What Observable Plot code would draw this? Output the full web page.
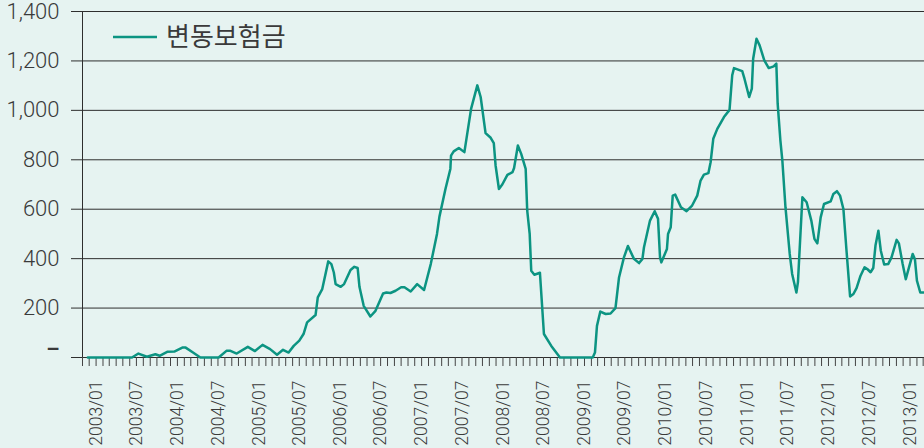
<!DOCTYPE html>
<html>
<head>
<meta charset="utf-8">
<script src="https://cdn.jsdelivr.net/npm/d3@7"></script>
<script src="https://cdn.jsdelivr.net/npm/@observablehq/plot@0.6"></script>
<style>
  html, body { margin: 0; padding: 0; background: #e6f3f1; }
  #chart svg { display: block; background: #e6f3f1; }
</style>
</head>
<body>
<div id="chart"></div>
<script>
// Series name
const seriesName = "변동보험금";

const dates = [
  "2002-11-25","2003-06-11","2003-07-10","2003-08-17","2003-09-24","2003-10-13","2003-11-16","2003-12-18",
  "2004-01-23","2004-02-07","2004-03-11","2004-04-13","2004-07-04","2004-08-08","2004-08-26","2004-09-23",
  "2004-11-12","2004-12-14","2005-01-17","2005-02-20","2005-03-23","2005-04-19","2005-05-14","2005-06-06",
  "2005-07-01","2005-07-20","2005-08-05","2005-09-12","2005-09-22","2005-10-12","2005-11-08","2005-11-22",
  "2005-12-03","2005-12-11","2006-01-03","2006-01-18","2006-02-16","2006-03-05","2006-03-20","2006-03-28",
  "2006-04-16","2006-05-16","2006-06-08","2006-07-12","2006-07-27","2006-08-14","2006-09-06","2006-10-01",
  "2006-10-16","2006-11-13","2006-12-12","2007-01-12","2007-02-11","2007-03-11","2007-03-22","2007-04-18",
  "2007-05-10","2007-05-13","2007-05-25","2007-06-17","2007-07-12","2007-08-11","2007-09-08","2007-09-23",
  "2007-10-15","2007-11-07","2007-11-21","2007-11-29","2007-12-14","2007-12-29","2008-01-21","2008-02-13",
  "2008-02-20","2008-03-08","2008-03-23","2008-04-12","2008-04-19","2008-04-30","2008-05-07","2008-05-21",
  "2008-06-15","2008-07-03","2008-08-05","2008-09-13","2009-02-07","2009-02-17","2009-02-26","2009-03-13",
  "2009-04-06","2009-04-28","2009-05-20","2009-06-05","2009-06-27","2009-07-15","2009-08-11","2009-09-03",
  "2009-09-18","2009-09-25","2009-10-22","2009-11-12","2009-11-27","2009-12-06","2009-12-12","2010-01-06",
  "2010-01-11","2010-01-23","2010-02-01","2010-02-12","2010-03-10","2010-04-04","2010-04-29","2010-05-22",
  "2010-06-06","2010-06-21","2010-07-11","2010-07-21","2010-08-02","2010-08-20","2010-09-19","2010-10-14",
  "2010-10-26","2010-11-03","2010-12-10","2010-12-20","2011-01-10","2011-01-22","2011-01-28","2011-02-12",
  "2011-02-26","2011-03-19","2011-04-08","2011-04-30","2011-05-12","2011-05-18","2011-05-30","2011-06-08",
  "2011-06-22","2011-07-11","2011-07-22","2011-08-10","2011-08-17","2011-08-29","2011-09-06","2011-09-25",
  "2011-10-16","2011-10-30","2011-11-12","2011-11-27","2011-12-12","2012-01-11","2012-01-23","2012-02-08",
  "2012-02-22","2012-03-08","2012-03-22","2012-04-07","2012-04-22","2012-05-06","2012-05-24","2012-06-11",
  "2012-06-23","2012-07-08","2012-07-20","2012-07-30","2012-08-12","2012-08-23","2012-09-07","2012-09-25",
  "2012-10-10","2012-11-02","2012-11-12","2012-11-29","2012-12-13","2012-12-28","2013-01-13","2013-01-23",
  "2013-02-01","2013-02-16","2013-03-07"
];

// Values (same order as dates)
const values = [
  0,0,16,3,13,7,23,24,
  40,40,20,0,0,27,27,16,
  43,26,51,34,11,31,20,47,
  68,95,142,172,243,277,389,378,
  344,297,286,297,354,367,362,286,
  209,166,189,259,263,261,270,284,
  284,267,297,273,378,500,570,682,
  763,817,834,848,831,1006,1101,1054,
  908,889,867,777,682,700,739,750,
  767,858,824,763,594,500,351,335,
  343,95,47,0,0,20,128,186,
  176,178,200,324,405,451,399,382,
  399,446,554,592,561,405,385,439,
  500,527,655,659,608,592,615,655,
  716,740,746,790,885,925,973,1002,
  1142,1171,1159,1128,1054,1088,1209,1290,
  1263,1202,1171,1178,1189,1027,880,797,
  608,420,338,263,305,513,648,628,
  554,480,462,567,621,632,662,673,
  655,601,432,247,257,281,331,365,
  358,345,362,453,513,432,376,378,
  405,476,462,378,317,367,419,398,
  311,263,263
];

// Axis tick values / labels
const yTicks = [0, 200, 400, 600, 800, 1000, 1200, 1400];
const yLabels = ["–", "200", "400", "600", "800", "1,000", "1,200", "1,400"];
const xTickLabels = [
  "2003/01","2003/07","2004/01","2004/07","2005/01","2005/07","2006/01","2006/07",
  "2007/01","2007/07","2008/01","2008/07","2009/01","2009/07","2010/01","2010/07",
  "2011/01","2011/07","2012/01","2012/07","2013/01"
];
const xStart = "2002-11-01";
const xEnd = "2013-03-07";

const data = dates.map((d, i) => ({date: new Date(d), value: values[i]}));
const labelDates = xTickLabels.map(s => new Date(s.replace("/", "-") + "-01"));
const monthTicks = d3.utcMonth.range(new Date(xStart), new Date("2013-03-08"));

const lineColor = "#0c9482";
const textColor = "#3a3a3a";
const gridColor = "#2e2e2e";
const fontFamily = "Roboto, 'Liberation Sans', Arial, sans-serif";

const chart = Plot.plot({
  width: 924,
  height: 448,
  marginLeft: 82,
  marginRight: 0,
  marginTop: 11,
  marginBottom: 91,
  style: {background: "#e6f3f1", fontFamily, color: textColor},
  x: {type: "utc", domain: [new Date(xStart), new Date(xEnd)], axis: null},
  y: {domain: [0, 1400], axis: null},
  marks: [
    // horizontal gridlines (with left tick stubs)
    Plot.ruleY(yTicks, {stroke: gridColor, strokeWidth: 1}),
    Plot.axisY(yTicks, {
      label: null, tickSize: 11, tickPadding: 12, stroke: gridColor,
      tickFormat: () => ""
    }),
    // y labels
    Plot.text(yTicks.slice(1), {
      y: d => d, frameAnchor: "left", dx: -23, textAnchor: "end",
      text: d => yLabels[yTicks.indexOf(d)], fontSize: 22, fill: textColor, fontWeight: 300
    }),
    Plot.text([yTicks[0]], {
      y: d => d, frameAnchor: "left", dx: -23, dy: -8, textAnchor: "end",
      text: d => yLabels[0], fontSize: 21, fill: textColor, fontWeight: 700
    }),
    // vertical axis line
    Plot.ruleX([new Date(xStart)], {stroke: gridColor, strokeWidth: 1}),
    // monthly ticks
    Plot.axisX(monthTicks, {
      label: null, anchor: "bottom", tickSize: 9, tickFormat: () => "", stroke: "#444"
    }),
    // rotated month labels
    Plot.axisX(labelDates, {
      label: null, anchor: "bottom", tickSize: 0, tickPadding: 23, tickRotate: -90,
      tickFormat: (d, i) => xTickLabels[i], fontSize: 17.5, fill: textColor, fontWeight: 300
    }),
    // series line
    Plot.line(data, {
      x: "date", y: "value", stroke: lineColor, strokeWidth: 2.5,
      strokeLinejoin: "round", strokeLinecap: "round"
    })
  ]
});

document.getElementById("chart").appendChild(chart);

// legend inside the plot area
const svg = d3.select(chart);
const lg = svg.append("g");
lg.append("line")
  .attr("x1", 113).attr("x2", 157).attr("y1", 37).attr("y2", 37)
  .attr("stroke", lineColor).attr("stroke-width", 2.5);
lg.append("text")
  .attr("x", 166).attr("y", 37).attr("dy", "0.36em")
  .attr("text-anchor", "start")
  .attr("fill", textColor)
  .style("font-family", "'Noto Sans CJK KR', sans-serif")
  .style("font-size", "26px")
  .text(seriesName);
</script>
</body>
</html>
